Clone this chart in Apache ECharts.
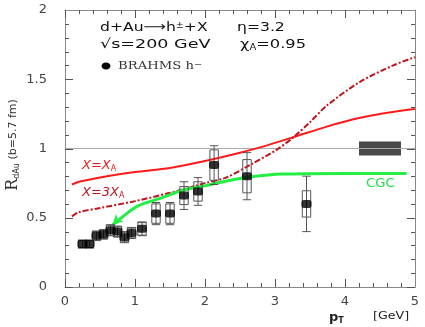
<!DOCTYPE html>
<html><head><meta charset="utf-8">
<script src="https://cdn.jsdelivr.net/npm/echarts@6/dist/echarts.min.js"></script>
<style>html,body{margin:0;padding:0;background:#fff}#c{width:425px;height:327px}</style>
</head><body><div id="c"></div>
<script>
// BRAHMS h- data
const ptData   = [0.25,0.35,0.45,0.55,0.65,0.75,0.85,0.95,1.10,1.30,1.50,1.70,1.90,2.13,2.60,3.45];
const rData    = [0.31,0.31,0.37,0.38,0.41,0.40,0.36,0.39,0.42,0.53,0.53,0.66,0.69,0.88,0.80,0.60];
const sysErr   = [0.03,0.03,0.035,0.035,0.04,0.04,0.04,0.04,0.05,0.07,0.07,0.065,0.07,0.11,0.12,0.095];
const statErr  = [0.025,0.025,0.03,0.03,0.035,0.035,0.035,0.035,0.045,0.08,0.08,0.10,0.10,0.14,0.17,0.20];
// curves
const curveX1   = [0.10,0.20,0.30,0.60,1.00,1.50,2.00,2.50,2.80,3.25,3.75,4.20,4.70,5.00];
const curveY1   = [0.74,0.76,0.77,0.80,0.83,0.86,0.91,0.97,1.01,1.08,1.16,1.22,1.265,1.285];
const curveX3   = [0.10,0.20,0.50,1.00,1.50,2.00,2.30,2.64,3.02,3.26,3.50,3.74,4.21,4.69,5.00];
const curveY3   = [0.51,0.54,0.57,0.62,0.68,0.75,0.79,0.88,0.99,1.08,1.19,1.31,1.48,1.60,1.66];
const cgcX      = [0.68,0.76,0.88,1.02,1.17,1.36,1.69,2.00,2.17,2.40,2.64,3.10,4.00,4.88];
const cgcY      = [0.45,0.48,0.53,0.58,0.61,0.64,0.70,0.73,0.75,0.775,0.795,0.815,0.82,0.82];
const unityX    = [0,5];
const unityY    = [1,1];
const hatchBox  = [[4.2,0.95],[4.8,1.05]];
const xTicks    = [0,1,2,3,4,5];
const yTicks    = [0,0.5,1,1.5,2];

const zip = (a,b) => a.map((v,i)=>[v,b[i]]);
const pts = ptData.map((x,i)=>[x,rData[i],sysErr[i],statErr[i]]);
const BW = 0.06;
const axisCol = '#555';
const font = 'DejaVu Sans';
const xMin=xTicks[0], xMax=xTicks[xTicks.length-1], yMin=yTicks[0], yMax=yTicks[yTicks.length-1];

function mkAxis(extra){
  return Object.assign({
    type:'value', splitLine:{show:false},
    axisLine:{show:true,onZero:false,lineStyle:{color:'#888',width:1}},
    axisTick:{show:false}, minorTick:{show:false}
  },extra);
}

const chart = echarts.init(document.getElementById('c'));
chart.setOption({
  animation:false,
  grid:{left:65,right:10,top:10,bottom:40},
  xAxis:[
    mkAxis({min:xMin,max:xMax,interval:1,position:'bottom',
      axisLabel:{color:'#444',fontSize:13,fontFamily:font,margin:8}}),
    mkAxis({min:xMin,max:xMax,interval:1,position:'top',axisLabel:{show:false}})
  ],
  yAxis:[
    mkAxis({min:yMin,max:yMax,interval:0.5,position:'left',
      axisLabel:{color:'#444',fontSize:13,fontFamily:font,margin:18}}),
    mkAxis({min:yMin,max:yMax,interval:0.5,position:'right',axisLabel:{show:false}})
  ],
  series:[
    {type:'line',data:zip(unityX,unityY),symbol:'none',lineStyle:{color:'#aaa',width:1},silent:true,
     markArea:{silent:true,itemStyle:{color:'#4a4a4a'},
       data:[[{coord:hatchBox[0]},{coord:hatchBox[1]}]]}},
    {type:'line',data:zip(curveX1,curveY1),symbol:'none',smooth:0.3,lineStyle:{color:'#ff1a1a',width:2}},
    {type:'line',data:zip(curveX3,curveY3),symbol:'none',smooth:0.3,lineStyle:{color:'#c0141c',width:2,type:[6,2,2,2]}},
    {type:'line',data:zip(cgcX,cgcY).map((p,i)=>i===0?{value:p,symbol:'arrow',symbolSize:[8,10],symbolRotate:135}:p),
     symbol:'none',showSymbol:true,smooth:0.3,lineStyle:{color:'#22ee44',width:3},itemStyle:{color:'#22ee44'}},
    {type:'custom',data:pts,z:5,
     renderItem:function(params,api){
       const x=api.value(0),y=api.value(1),s=api.value(2),st=api.value(3);
       const a=api.coord([x-BW,y+s]), b=api.coord([x+BW,y-s]);
       const t=api.coord([x,y+st]), d=api.coord([x,y-st]);
       const l=api.coord([x-BW,y]), r=api.coord([x+BW,y]);
       const st1={stroke:'#555',lineWidth:1,fill:null};
       return {type:'group',children:[
         {type:'rect',shape:{x:a[0],y:a[1],width:b[0]-a[0],height:b[1]-a[1]},style:st1},
         {type:'line',shape:{x1:t[0],y1:t[1],x2:d[0],y2:d[1]},style:st1},
         {type:'line',shape:{x1:l[0],y1:t[1],x2:r[0],y2:t[1]},style:st1},
         {type:'line',shape:{x1:l[0],y1:d[1],x2:r[0],y2:d[1]},style:st1}
       ]};
     }},
    {type:'scatter',data:zip(ptData,rData),symbol:'roundRect',symbolSize:[10,8],itemStyle:{color:'#000'},z:6}
  ]
});

// frame tick marks (inside, all four sides), positioned through the chart's own scales
const tickEls=[];
const px = p => chart.convertToPixel({gridIndex:0}, p);
const snap = v => Math.round(v)+0.5;
function tl(x1,y1,x2,y2){
  tickEls.push({type:'line',z:100,silent:true,shape:{x1:x1,y1:y1,x2:x2,y2:y2},
    style:{stroke:axisCol,lineWidth:1}});
}
for(let i=0;i<xTicks.length-1;i++){
  for(let k=0;k<5;k++){
    const v=xTicks[i]+k*(xTicks[i+1]-xTicks[i])/5; const L=k===0?8:4;
    const b=px([v,yMin]), t=px([v,yMax]);
    tl(snap(b[0]),b[1],snap(b[0]),b[1]-L);
    tl(snap(t[0]),t[1],snap(t[0]),t[1]+L);
  }
}
for(let i=0;i<yTicks.length-1;i++){
  for(let k=0;k<5;k++){
    const v=yTicks[i]+k*(yTicks[i+1]-yTicks[i])/5; const L=k===0?8:4;
    const l=px([xMin,v]), r=px([xMax,v]);
    tl(l[0],snap(l[1]),l[0]+L,snap(l[1]));
    tl(r[0],snap(r[1]),r[0]-L,snap(r[1]));
  }
}

const textEls=[
    {type:'text',x:100,y:28,scaleX:1.2,style:{text:'{a|d+Au}{b|⟶}{a|h}{s|±}{a|+X}',verticalAlign:'middle',
      rich:{a:{fontFamily:font,fontSize:13,fill:'#111'},b:{fontFamily:font,fontSize:13,fill:'#111'},s:{fontFamily:font,fontSize:8,fill:'#111',verticalAlign:'top'}}}},
    {type:'text',x:237,y:28,scaleX:1.2,style:{text:'η=3.2',fontFamily:font,fontSize:13,fill:'#111',verticalAlign:'middle'}},
    {type:'text',x:100,y:45,scaleX:1.35,style:{text:'√s=200 GeV',fontFamily:font,fontSize:13,fill:'#111',verticalAlign:'middle'}},
    {type:'text',x:240,y:45,scaleX:1.25,style:{text:'{a|χ}{s|A}{a|=0.95}',verticalAlign:'middle',
      rich:{a:{fontFamily:font,fontSize:13,fill:'#111'},s:{fontFamily:font,fontSize:8,fill:'#111',verticalAlign:'bottom'}}}},
    {type:'ellipse',shape:{cx:106,cy:66,rx:4.5,ry:3.5},style:{fill:'#000'}},
    {type:'text',x:118,y:66,scaleX:1.2,style:{text:'{a|BRAHMS h}{s|−}',verticalAlign:'middle',
      rich:{a:{fontFamily:'DejaVu Serif',fontSize:11,fill:'#333'},s:{fontFamily:font,fontSize:8,fill:'#333',verticalAlign:'top'}}}},
    {type:'text',x:82,y:166,style:{text:'{a|X=X}{s|A}',verticalAlign:'middle',
      rich:{a:{fontFamily:font,fontSize:13,fontStyle:'italic',fill:'#e81c1c'},s:{fontFamily:font,fontSize:8,fill:'#e81c1c',verticalAlign:'bottom'}}}},
    {type:'text',x:82,y:193,style:{text:'{a|X=3X}{s|A}',verticalAlign:'middle',
      rich:{a:{fontFamily:font,fontSize:13,fontStyle:'italic',fill:'#b41820'},s:{fontFamily:font,fontSize:8,fill:'#b41820',verticalAlign:'bottom'}}}},
    {type:'text',x:366,y:184,scaleX:1.1,style:{text:'CGC',fontFamily:font,fontSize:12,fill:'#22dd44',verticalAlign:'middle'}},
    {type:'text',x:329,y:318,style:{text:'{p|p}{s|T}',verticalAlign:'middle',
      rich:{p:{fontFamily:font,fontSize:13,fontWeight:'bold',fill:'#222'},s:{fontFamily:font,fontSize:8,fontWeight:'bold',fill:'#222',verticalAlign:'bottom'}}}},
    {type:'text',x:373,y:316,scaleX:1.15,style:{text:'[GeV]',fontFamily:font,fontSize:11,fill:'#222',verticalAlign:'middle'}},
    {type:'text',x:13,y:145,rotation:Math.PI/2,style:{text:'{r|R}{s|dAu}{n| (b=5.7 fm)}',align:'center',verticalAlign:'middle',
      rich:{r:{fontFamily:'DejaVu Serif',fontSize:16,fill:'#333'},s:{fontFamily:font,fontSize:8,fill:'#333',verticalAlign:'bottom'},n:{fontFamily:font,fontSize:11,fill:'#333'}}}}
];
chart.setOption({graphic:{elements:textEls.concat(tickEls)}});
</script></body></html>
